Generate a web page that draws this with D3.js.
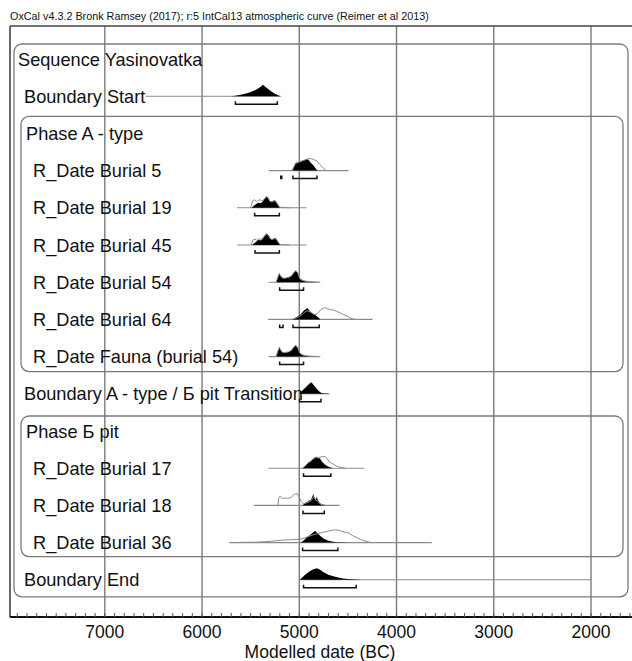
<!DOCTYPE html>
<html>
<head>
<meta charset="utf-8">
<script src="https://cdn.jsdelivr.net/npm/d3@7"></script>
<style>
  body { margin: 0; background: #fff; }
  text { font-family: "Liberation Sans", Arial, Helvetica, sans-serif; fill: #111; }
</style>
</head>
<body>
<svg id="chart" width="632" height="661"></svg>
<script>
// ---- data (years BC, relative probability) ----
const headerText = "OxCal v4.3.2 Bronk Ramsey (2017); r:5 IntCal13 atmospheric curve (Reimer et al 2013)";
const axisTitle = "Modelled date (BC)";
const majorTicks = [7000, 6000, 5000, 4000, 3000, 2000];

const rowLabels = [
  "Sequence Yasinovatka", "Boundary Start", "Phase A - type",
  "R_Date Burial 5", "R_Date Burial 19", "R_Date Burial 45", "R_Date Burial 54",
  "R_Date Burial 64", "R_Date Fauna (burial 54)",
  "Boundary A - type / Б pit Transition", "Phase Б pit",
  "R_Date Burial 17", "R_Date Burial 18", "R_Date Burial 36", "Boundary End"
];
const rowKinds = ["sequence", "boundary", "phase", "date", "date", "date", "date",
  "date", "date", "boundary", "phase", "date", "date", "date", "boundary"];

// modelled (black) distributions
const startPost = [[5700,0],[5660,0.03],[5600,0.12],[5520,0.3],[5450,0.55],[5400,0.8],[5375,1],[5340,0.75],[5300,0.5],[5260,0.25],[5220,0.08],[5190,0]];
const burial5Post = [[5070,0],[5055,0.3],[5040,0.65],[5020,0.72],[5000,0.7],[4985,0.8],[4960,0.85],[4930,1],[4905,0.95],[4885,0.7],[4860,0.5],[4840,0.3],[4820,0.05],[4810,0]];
const burial19Post = [[5490,0],[5470,0.15],[5440,0.35],[5420,0.45],[5400,0.4],[5380,0.5],[5360,0.75],[5340,1],[5320,0.9],[5300,0.6],[5280,0.55],[5260,0.65],[5240,0.6],[5220,0.3],[5200,0]];
const burial45Post = [[5485,0],[5465,0.15],[5440,0.3],[5420,0.45],[5400,0.4],[5380,0.5],[5360,0.8],[5335,1],[5315,0.85],[5295,0.55],[5275,0.5],[5255,0.6],[5235,0.55],[5215,0.25],[5200,0]];
const burial54Post = [[5235,0],[5220,0.4],[5205,0.75],[5190,0.5],[5170,0.35],[5140,0.35],[5110,0.4],[5080,0.55],[5055,0.85],[5035,1],[5015,0.8],[4995,0.3],[4970,0.15],[4940,0.08],[4900,0.04],[4860,0.02],[4840,0]];
const burial64Post = [[5070,0],[5040,0.15],[5010,0.3],[4990,0.4],[4970,0.6],[4950,0.8],[4930,0.9],[4915,1],[4895,0.75],[4870,0.55],[4840,0.4],[4810,0.2],[4790,0.05],[4780,0]];
const faunaPost = [[5235,0],[5220,0.45],[5205,0.8],[5190,0.55],[5170,0.35],[5140,0.35],[5110,0.4],[5080,0.55],[5055,0.85],[5035,0.98],[5015,0.75],[4995,0.3],[4970,0.15],[4940,0.07],[4900,0.03],[4850,0]];
const transitionPost = [[5005,0],[4990,0.1],[4960,0.35],[4930,0.6],[4900,0.85],[4875,1],[4850,0.75],[4820,0.45],[4800,0.25],[4780,0.12],[4760,0.05],[4720,0.02],[4690,0]];
const burial17Post = [[4965,0],[4940,0.2],[4910,0.45],[4880,0.6],[4860,0.8],[4840,0.95],[4825,1],[4805,0.85],[4790,0.88],[4770,0.6],[4740,0.35],[4710,0.18],[4680,0.07],[4650,0]];
const burial18Post = [[4965,0],[4945,0.2],[4920,0.3],[4900,0.4],[4880,0.5],[4865,0.8],[4855,1],[4845,0.6],[4830,0.5],[4820,0.75],[4810,0.5],[4790,0.2],[4770,0.1],[4740,0.03],[4730,0]];
const burial36Post = [[4990,0],[4960,0.15],[4930,0.4],[4900,0.6],[4870,0.8],[4850,0.95],[4835,1],[4810,0.8],[4780,0.55],[4750,0.35],[4720,0.22],[4690,0.15],[4650,0.08],[4600,0.04],[4550,0.02],[4500,0]];
const endPost = [[4995,0],[4970,0.2],[4940,0.45],[4900,0.7],[4860,0.9],[4820,1],[4790,0.9],[4750,0.65],[4700,0.45],[4650,0.3],[4600,0.2],[4550,0.12],[4500,0.07],[4450,0.04],[4400,0.02],[4350,0]];

// unmodelled (outline) distributions
const burial5Prior = [[5080,0],[5060,0.25],[5040,0.6],[5010,0.72],[4985,0.82],[4950,0.9],[4920,1],[4890,1.05],[4870,1.02],[4850,0.95],[4820,0.85],[4790,0.55],[4760,0.3],[4740,0.1],[4720,0]];
const burial19Prior = [[5500,0],[5480,0.6],[5460,0.7],[5440,0.55],[5420,0.65],[5400,0.7],[5380,0.6],[5360,0.75],[5340,0.95],[5320,0.85],[5300,0.55],[5280,0.5],[5260,0.6],[5240,0.55],[5220,0.25],[5200,0.05],[5150,0.02],[5100,0]];
const burial45Prior = [[5495,0],[5475,0.45],[5455,0.5],[5435,0.4],[5415,0.55],[5395,0.5],[5375,0.6],[5355,0.8],[5335,0.95],[5315,0.8],[5295,0.5],[5275,0.48],[5255,0.55],[5235,0.5],[5215,0.2],[5195,0.05],[5150,0.02],[5100,0]];
const burial54Prior = [[5240,0],[5222,0.42],[5205,0.78],[5190,0.5],[5165,0.35],[5140,0.37],[5110,0.42],[5080,0.56],[5055,0.86],[5035,1],[5015,0.8],[4995,0.32],[4970,0.18],[4940,0.1],[4900,0.06],[4860,0.04],[4820,0.02],[4790,0]];
const burial64Prior = [[5080,0],[5040,0.1],[5000,0.25],[4960,0.5],[4930,0.75],[4900,0.7],[4870,0.55],[4840,0.4],[4810,0.5],[4780,0.85],[4750,1],[4730,1],[4710,0.92],[4680,0.85],[4650,0.82],[4620,0.72],[4590,0.6],[4560,0.5],[4530,0.35],[4500,0.25],[4470,0.1],[4440,0.02],[4420,0]];
const faunaPrior = [[5240,0],[5222,0.46],[5205,0.82],[5190,0.52],[5165,0.34],[5140,0.36],[5110,0.41],[5080,0.55],[5055,0.85],[5035,0.98],[5015,0.78],[4995,0.32],[4970,0.18],[4940,0.1],[4900,0.05],[4850,0.02],[4790,0]];
const burial17Prior = [[4970,0],[4940,0.2],[4910,0.45],[4880,0.65],[4850,0.85],[4820,0.95],[4790,0.95],[4760,1],[4735,1.02],[4710,0.8],[4690,0.5],[4670,0.45],[4650,0.35],[4620,0.2],[4590,0.1],[4560,0.05],[4530,0]];
const burial18Prior = [[5220,0],[5210,0.7],[5200,0.8],[5180,0.65],[5160,0.6],[5140,0.65],[5120,0.6],[5100,0.65],[5080,0.7],[5060,0.9],[5040,1],[5020,1.02],[5000,0.7],[4980,0.35],[4960,0.15],[4940,0.15],[4920,0.25],[4900,0.3],[4880,0.4],[4860,0.65],[4850,0.8],[4830,0.45],[4810,0.4],[4790,0.15],[4760,0.05],[4730,0]];
const burial36Prior = [[5720,0],[5600,0.02],[5470,0.03],[5350,0.08],[5250,0.15],[5200,0.2],[5100,0.25],[5000,0.28],[4950,0.4],[4900,0.55],[4850,0.7],[4800,0.8],[4750,0.9],[4700,1],[4650,1.1],[4610,1.1],[4570,1],[4530,0.9],[4490,0.82],[4450,0.6],[4400,0.4],[4350,0.2],[4300,0.08],[4260,0]];

// grey base line extent of each row, and 95.4% ranges
const rowSpans = [null, [6580,5190], null, [5315,4494], [5640,4928], [5635,4928], [5315,4784],
  [5321,4247], [5315,4784], [5005,4690], null, [5315,4333], [5469,4586], [5716,3638], [4995,2000]];
const rowRanges = [null, [[5657,5226]], null, [[5190,5180],[5065,4818]], [[5459,5205]], [[5455,5205]],
  [[5202,4956]], [[5202,5167],[5065,4795]], [[5202,4956]], [[4997,4777]], null,
  [[4956,4676]], [[4962,4743]], [[4966,4603]], [[4956,4415]]];
const rowPost = [null, startPost, null, burial5Post, burial19Post, burial45Post, burial54Post,
  burial64Post, faunaPost, transitionPost, null, burial17Post, burial18Post, burial36Post, endPost];
const rowPrior = [null, null, null, burial5Prior, burial19Prior, burial45Prior, burial54Prior,
  burial64Prior, faunaPrior, null, null, burial17Prior, burial18Prior, burial36Prior, null];

// ---- layout ----
const svg = d3.select("#chart");
const frameLeft = 10, frameTop = 26, axisY = 617;
const x = d3.scaleLinear().domain([7000, 2000]).range([104.8, 591]);
const rowY = i => 59 + i * 37.2;
const peakH = 11.5;
const labelX = { sequence: 18, boundary: 24, phase: 26, date: 33 };

// header
svg.append("text")
  .attr("x", 10).attr("y", 20)
  .style("font-size", "10.8px")
  .text(headerText);

// vertical grid at the thousands
svg.append("g").selectAll("line")
  .data(majorTicks)
  .enter().append("line")
  .attr("x1", d => x(d)).attr("x2", d => x(d))
  .attr("y1", frameTop).attr("y2", axisY)
  .attr("stroke", "#7a7a7a").attr("stroke-width", 1.4);

// frame
svg.append("line").attr("x1", frameLeft).attr("x2", 632).attr("y1", frameTop).attr("y2", frameTop)
  .attr("stroke", "#444").attr("stroke-width", 1.6);
svg.append("line").attr("x1", frameLeft).attr("x2", frameLeft).attr("y1", frameTop).attr("y2", axisY)
  .attr("stroke", "#444").attr("stroke-width", 1.6);

// group boxes (sequence, two phases)
const boxes = [
  { x1: 14, x2: 628, top: rowY(0) - 15, bottom: rowY(14) + 17 },
  { x1: 21, x2: 623, top: rowY(2) - 17, bottom: rowY(8) + 15 },
  { x1: 21, x2: 623, top: rowY(10) - 15, bottom: rowY(13) + 14 }
];
svg.append("g").selectAll("rect")
  .data(boxes)
  .enter().append("rect")
  .attr("x", d => d.x1).attr("y", d => d.top)
  .attr("width", d => d.x2 - d.x1).attr("height", d => d.bottom - d.top)
  .attr("rx", 8).attr("ry", 8)
  .attr("fill", "none").attr("stroke", "#7a7a7a").attr("stroke-width", 1.3);

// labels
svg.append("g").selectAll("text")
  .data(rowLabels)
  .enter().append("text")
  .attr("x", (d, i) => labelX[rowKinds[i]])
  .attr("y", (d, i) => rowY(i) + 6.5)
  .style("font-size", "18.2px")
  .text(d => d);

// distributions
const rows = svg.append("g");
rowLabels.forEach((lab, i) => {
  if (!rowSpans[i]) return;
  const y0 = rowY(i);
  const g = rows.append("g");
  const area = d3.area().x(d => x(d[0])).y0(y0).y1(d => y0 - d[1] * peakH);
  const line = d3.line().x(d => x(d[0])).y(d => y0 - d[1] * peakH);

  g.append("line")
    .attr("x1", x(rowSpans[i][0])).attr("x2", x(rowSpans[i][1]))
    .attr("y1", y0).attr("y2", y0)
    .attr("stroke", "#8a8a8a").attr("stroke-width", 1.1);

  g.append("path").datum(rowPost[i])
    .attr("d", area)
    .attr("fill", "#000");

  if (rowPrior[i]) {
    g.append("path").datum(rowPrior[i])
      .attr("d", line)
      .attr("fill", "none").attr("stroke", "#8c8c8c").attr("stroke-width", 1);
  }

  // 95.4% range brackets
  const yb = y0 + 8;
  rowRanges[i].forEach(r => {
    const a = x(r[0]), b = x(r[1]);
    g.append("path")
      .attr("d", `M${a},${yb - 3}V${yb}H${b}V${yb - 3}`)
      .attr("fill", "none").attr("stroke", "#111").attr("stroke-width", 1.5);
  });
});

// axis
const axisG = svg.append("g");
axisG.append("line").attr("x1", frameLeft).attr("x2", 632).attr("y1", axisY).attr("y2", axisY)
  .attr("stroke", "#111").attr("stroke-width", 1.8);
const minorTicks = d3.range(7900, 1500, -100);
axisG.selectAll("line.minor")
  .data(minorTicks)
  .enter().append("line")
  .attr("class", "minor")
  .attr("x1", d => x(d)).attr("x2", d => x(d))
  .attr("y1", axisY).attr("y2", axisY - 4)
  .attr("stroke", "#555").attr("stroke-width", 1);
axisG.selectAll("text.tick")
  .data(majorTicks)
  .enter().append("text")
  .attr("class", "tick")
  .attr("x", d => x(d)).attr("y", 638)
  .attr("text-anchor", "middle")
  .style("font-size", "17.5px")
  .text(d => d);
axisG.append("text")
  .attr("x", 320).attr("y", 658)
  .attr("text-anchor", "middle")
  .style("font-size", "17.5px")
  .text(axisTitle);
</script>
</body>
</html>
